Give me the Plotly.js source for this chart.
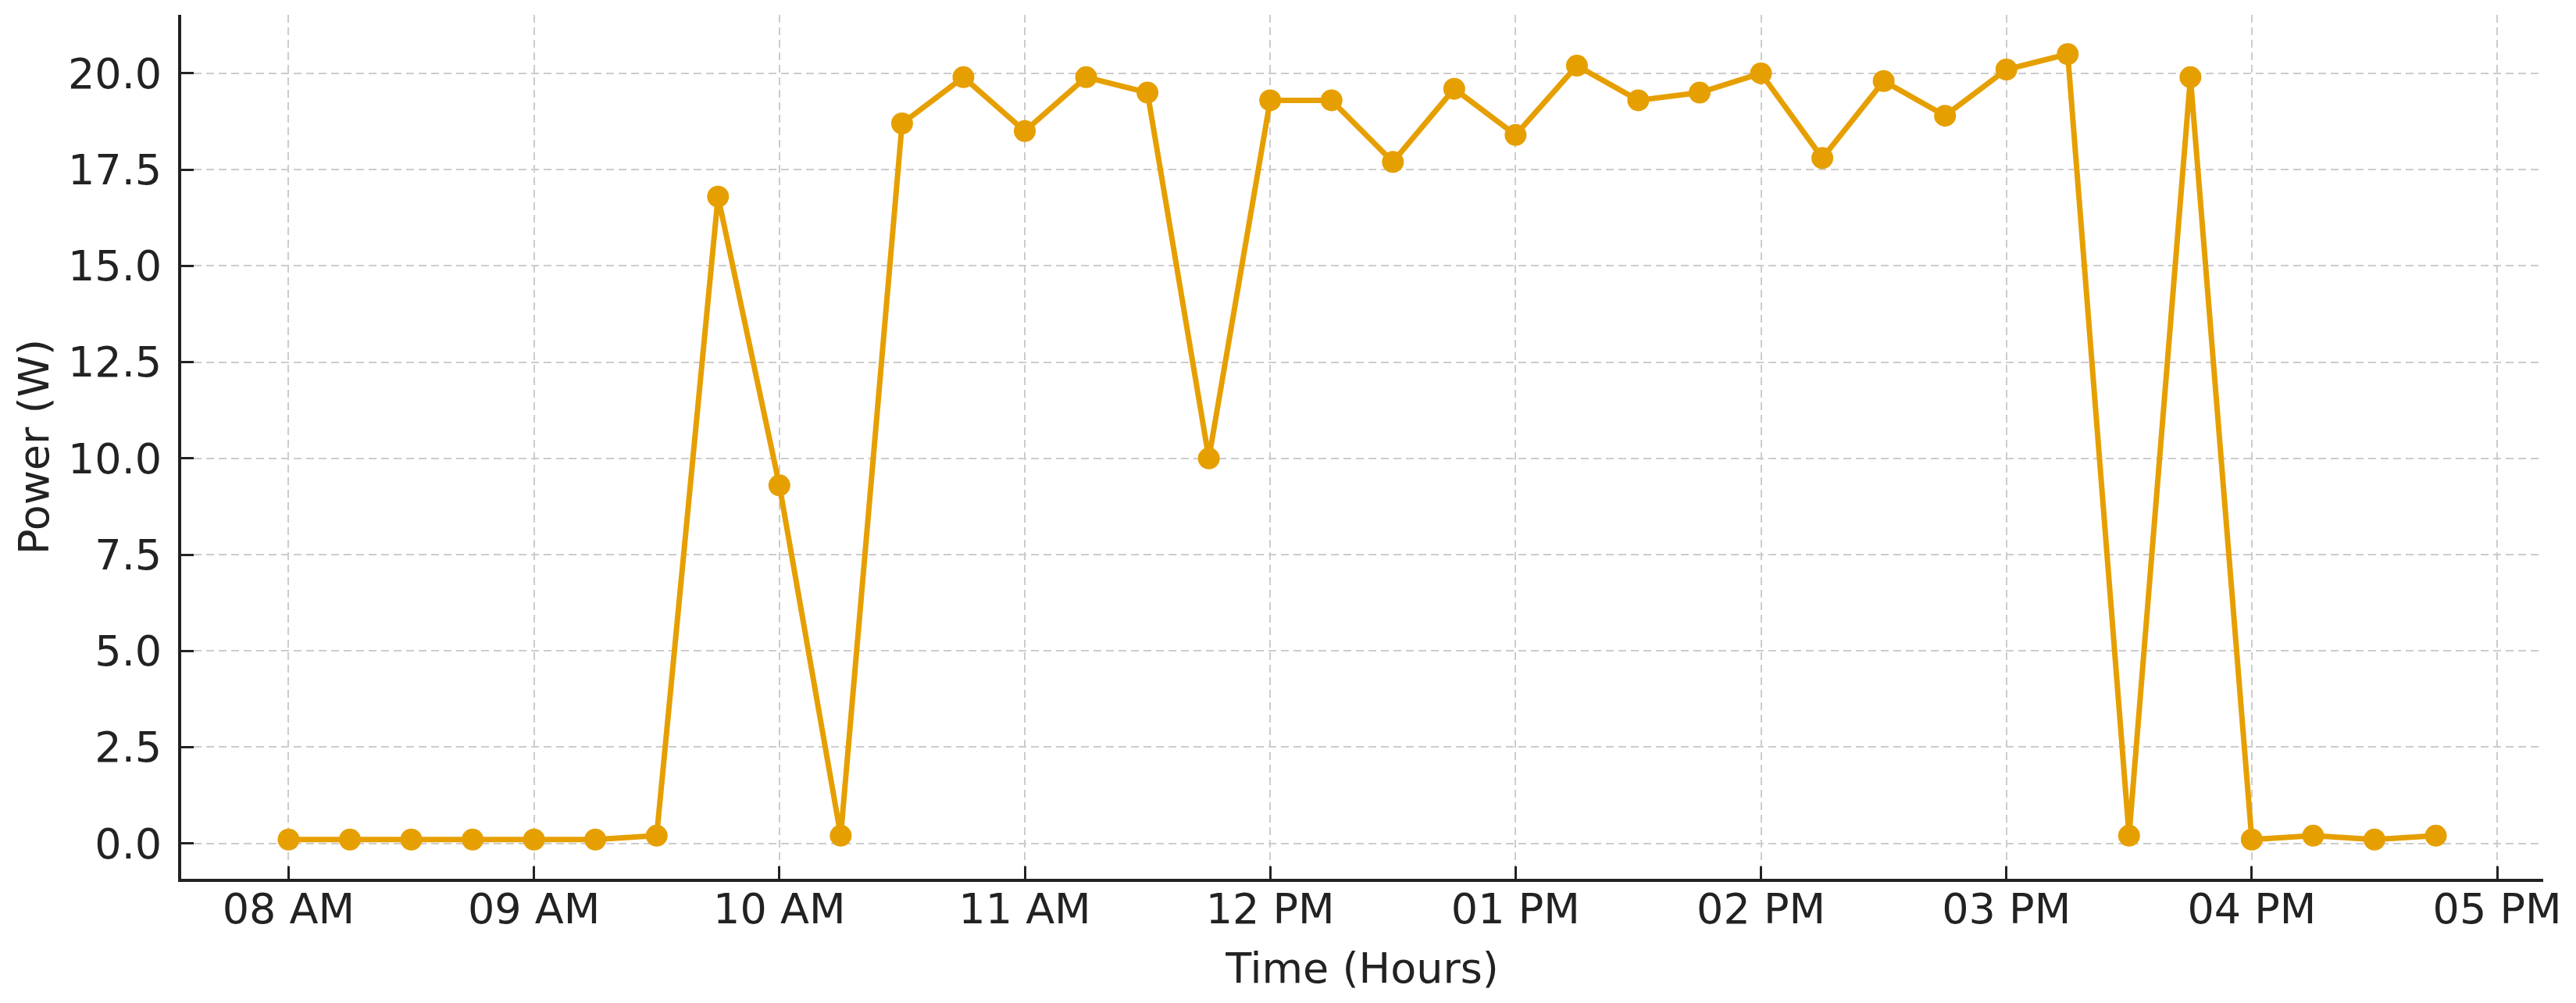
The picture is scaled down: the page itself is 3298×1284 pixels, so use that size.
<!DOCTYPE html>
<html>
<head>
<meta charset="utf-8">
<script src="https://cdn.plot.ly/plotly-3.0.1.min.js"></script>
<style>html,body{margin:0;padding:0;background:#fff;}#chart{width:3298px;height:1284px;}</style>
</head>
<body>
<div id="chart"></div>
<script>
const times = [
  "2024-01-01 08:00","2024-01-01 08:15","2024-01-01 08:30","2024-01-01 08:45",
  "2024-01-01 09:00","2024-01-01 09:15","2024-01-01 09:30","2024-01-01 09:45",
  "2024-01-01 10:00","2024-01-01 10:15","2024-01-01 10:30","2024-01-01 10:45",
  "2024-01-01 11:00","2024-01-01 11:15","2024-01-01 11:30","2024-01-01 11:45",
  "2024-01-01 12:00","2024-01-01 12:15","2024-01-01 12:30","2024-01-01 12:45",
  "2024-01-01 13:00","2024-01-01 13:15","2024-01-01 13:30","2024-01-01 13:45",
  "2024-01-01 14:00","2024-01-01 14:15","2024-01-01 14:30","2024-01-01 14:45",
  "2024-01-01 15:00","2024-01-01 15:15","2024-01-01 15:30","2024-01-01 15:45",
  "2024-01-01 16:00","2024-01-01 16:15","2024-01-01 16:30","2024-01-01 16:45"
];
const power = [
  0.1, 0.1, 0.1, 0.1,
  0.1, 0.1, 0.2, 16.8,
  9.3, 0.2, 18.7, 19.9,
  18.5, 19.9, 19.5, 10.0,
  19.3, 19.3, 17.7, 19.6,
  18.4, 20.2, 19.3, 19.5,
  20.0, 17.8, 19.8, 18.9,
  20.1, 20.5, 0.2, 19.9,
  0.1, 0.2, 0.1, 0.2
];
const xTitle = "Time (Hours)";
const yTitle = "Power (W)";

const font = "DejaVu Sans, sans-serif";
const trace = {
  x: times, y: power, type: "scatter", mode: "lines+markers",
  line: {color: "#E69F00", width: 7},
  marker: {color: "#E69F00", size: 28},
  hoverinfo: "skip"
};
const axisCommon = {
  showline: true, linecolor: "#222", linewidth: 4,
  ticks: "inside", ticklen: 16, tickwidth: 3, tickcolor: "#222",
  showgrid: true, gridcolor: "#cccccc", gridwidth: 2, griddash: "10px,6px",
  zeroline: false, mirror: false,
  tickfont: {family: font, size: 54, color: "#222"}
};
const layout = {
  width: 3298, height: 1284,
  margin: {l: 232, r: 42, t: 19, b: 159},
  paper_bgcolor: "#fff", plot_bgcolor: "#fff",
  showlegend: false,
  font: {family: font, color: "#222"},
  xaxis: Object.assign({}, axisCommon, {
    type: "date",
    range: ["2024-01-01 07:33:45", "2024-01-01 17:11:15"],
    dtick: 3600000, tick0: "2024-01-01 08:00", tickformat: "%I %p",
    ticklabelstandoff: -12,
    title: {text: xTitle, font: {family: font, size: 54, color: "#222"}, standoff: 27}
  }),
  yaxis: Object.assign({}, axisCommon, {
    range: [-0.92, 21.52], dtick: 2.5, tick0: 0, tickformat: ".1f",
    ticklabelstandoff: 10,
    title: {text: yTitle, font: {family: font, size: 54, color: "#222"}, standoff: 8}
  })
};
Plotly.newPlot("chart", [trace], layout, {staticPlot: true, displayModeBar: false});
</script>
</body>
</html>
